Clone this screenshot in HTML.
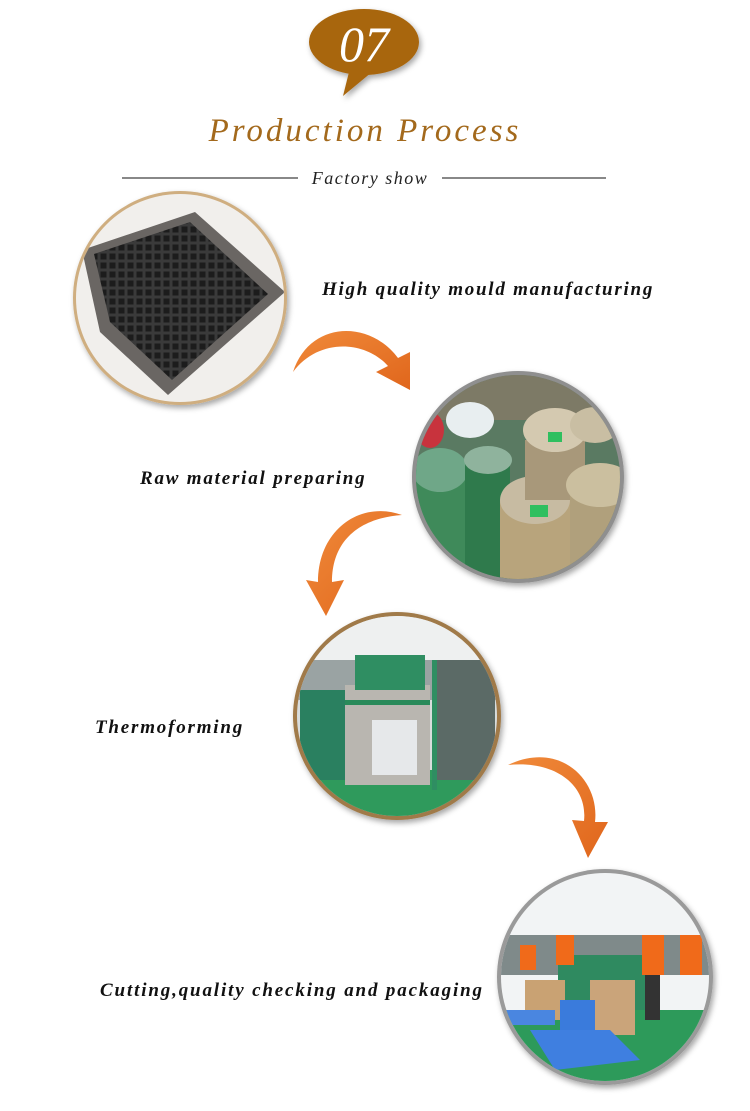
<!DOCTYPE html>
<html><head><meta charset="utf-8"><style>
html,body{margin:0;padding:0;background:#fff;}
body{width:750px;height:1106px;overflow:hidden;}
</style></head><body>
<svg width="750" height="1106" viewBox="0 0 750 1106" xmlns="http://www.w3.org/2000/svg" font-family="Liberation Serif, serif">
<defs>
<filter id="sh" x="-20%" y="-20%" width="140%" height="140%"><feDropShadow dx="2" dy="3" stdDeviation="3" flood-color="#000" flood-opacity="0.35"/></filter>
<clipPath id="c1"><circle cx="180" cy="298" r="104"/></clipPath>
<clipPath id="c2"><circle cx="518" cy="477" r="102"/></clipPath>
<clipPath id="c3"><circle cx="397" cy="716" r="100"/></clipPath>
<clipPath id="c4"><circle cx="605" cy="977" r="104"/></clipPath>
<linearGradient id="og" x1="0" y1="0" x2="1" y2="1"><stop offset="0" stop-color="#f08a3a"/><stop offset="1" stop-color="#e0661c"/></linearGradient>
<pattern id="grid" width="9" height="9" patternUnits="userSpaceOnUse"><rect width="9" height="9" fill="#3a3a3a"/><rect x="1.5" y="1.5" width="6" height="6" fill="#1c1c1c"/></pattern>
</defs>

<g filter="url(#sh)">
<ellipse cx="364" cy="42" rx="55" ry="33" fill="#a8660f"/>
<path d="M350 68 L343 96 L372 72 Z" fill="#a8660f"/>
</g>
<text x="364" y="61" font-size="50" font-style="italic" fill="#fff" text-anchor="middle">07</text>

<text x="365" y="141" font-size="33" font-style="italic" fill="#a3691c" text-anchor="middle" letter-spacing="3">Production Process</text>
<line x1="122" y1="178" x2="298" y2="178" stroke="#111" stroke-width="1"/>
<line x1="442" y1="178" x2="606" y2="178" stroke="#111" stroke-width="1"/>
<text x="370" y="184" font-size="18" font-style="italic" fill="#222" text-anchor="middle" letter-spacing="1.5">Factory show</text>

<g filter="url(#sh)"><circle cx="180" cy="298" r="107" fill="#cfae80"/></g>
<g clip-path="url(#c1)">
<rect x="70" y="190" width="220" height="220" fill="#f1efec"/>
<polygon points="82,250 195,212 285,292 168,395 100,332" fill="#6a6663"/>
<polygon points="94,254 190,222 268,294 172,380 110,322" fill="url(#grid)"/>
</g>
<text x="322" y="295" font-size="19" font-style="italic" font-weight="bold" fill="#111" letter-spacing="1.75">High quality mould manufacturing</text>

<path d="M293 372 C 310 320, 370 320, 398 358 L410 352 L410 390 L376 372 L388 366 C 365 340, 318 338, 293 372 Z" fill="url(#og)"/>

<g filter="url(#sh)"><circle cx="518" cy="477" r="106" fill="#8f8f8f"/></g>
<g clip-path="url(#c2)">
<rect x="410" y="370" width="220" height="220" fill="#5a7a62"/>
<rect x="410" y="370" width="220" height="50" fill="#7d7a66"/>
<rect x="410" y="470" width="80" height="110" fill="#3f8a5a"/>
<ellipse cx="440" cy="470" rx="28" ry="22" fill="#6fa788"/>
<ellipse cx="470" cy="420" rx="24" ry="18" fill="#e8eef0"/>
<ellipse cx="430" cy="430" rx="14" ry="18" fill="#c8333d"/>
<rect x="465" y="460" width="45" height="120" fill="#2f7a4c"/>
<ellipse cx="488" cy="460" rx="24" ry="14" fill="#8fb39d"/>
<rect x="500" y="500" width="70" height="90" fill="#b8a47c"/>
<ellipse cx="535" cy="500" rx="35" ry="24" fill="#c7bba2"/>
<rect x="525" y="440" width="60" height="60" fill="#a8987a"/>
<ellipse cx="555" cy="430" rx="32" ry="22" fill="#d4c9b0"/>
<rect x="570" y="480" width="60" height="110" fill="#b0a07c"/>
<ellipse cx="600" cy="485" rx="34" ry="22" fill="#cbbf9f"/>
<ellipse cx="595" cy="425" rx="25" ry="18" fill="#c9bea3"/>
<rect x="530" y="505" width="18" height="12" fill="#2fbf5f"/>
<rect x="548" y="432" width="14" height="10" fill="#2fbf5f"/>
</g>
<text x="140" y="484" font-size="19" font-style="italic" font-weight="bold" fill="#111" letter-spacing="1.8">Raw material preparing</text>

<path d="M402 515 C 360 500, 318 530, 318 582 L306 580 L326 616 L344 580 L332 582 C 332 540, 360 518, 402 515 Z" fill="url(#og)"/>

<g filter="url(#sh)"><circle cx="397" cy="716" r="104" fill="#a07a48"/></g>
<g clip-path="url(#c3)">
<rect x="290" y="610" width="215" height="215" fill="#d8dcdc"/>
<rect x="290" y="610" width="215" height="50" fill="#eef0f0"/>
<rect x="290" y="660" width="215" height="40" fill="#9aa3a3"/>
<rect x="290" y="770" width="215" height="60" fill="#2f9a5c"/>
<rect x="345" y="685" width="85" height="100" fill="#b9b6b0"/>
<rect x="345" y="700" width="85" height="5" fill="#2a8a5a"/>
<rect x="355" y="655" width="70" height="35" fill="#2f8e62"/>
<rect x="300" y="690" width="45" height="90" fill="#2a8060"/>
<rect x="435" y="660" width="60" height="120" fill="#5b6a66"/>
<rect x="432" y="660" width="5" height="130" fill="#2f8e62"/>
<rect x="372" y="720" width="45" height="55" fill="#e6e8ea"/>
</g>
<text x="95" y="733" font-size="19" font-style="italic" font-weight="bold" fill="#111" letter-spacing="1.8">Thermoforming</text>

<path d="M508 765 C 560 740, 600 780, 595 822 L608 822 L588 858 L572 820 L584 821 C 588 785, 555 760, 508 765 Z" fill="url(#og)"/>

<g filter="url(#sh)"><circle cx="605" cy="977" r="108" fill="#9a9a9a"/></g>
<g clip-path="url(#c4)">
<rect x="495" y="865" width="225" height="225" fill="#f2f4f5"/>
<rect x="495" y="935" width="225" height="40" fill="#7f8a8a"/>
<rect x="495" y="1010" width="225" height="80" fill="#2d9a5a"/>
<rect x="558" y="955" width="100" height="55" fill="#2f8a60"/>
<rect x="520" y="945" width="16" height="25" fill="#f06a1a"/>
<rect x="556" y="935" width="18" height="30" fill="#f06a1a"/>
<rect x="642" y="935" width="22" height="40" fill="#f06a1a"/>
<rect x="680" y="935" width="22" height="40" fill="#f06a1a"/>
<rect x="645" y="975" width="15" height="45" fill="#333"/>
<rect x="525" y="980" width="40" height="40" fill="#c9a273"/>
<rect x="590" y="980" width="45" height="55" fill="#caa47a"/>
<rect x="560" y="1000" width="35" height="30" fill="#3a7bdc"/>
<polygon points="530,1030 610,1030 640,1060 555,1070" fill="#3f7fe0"/>
<rect x="505" y="1010" width="50" height="15" fill="#4a86e0"/>
</g>
<text x="100" y="996" font-size="19" font-style="italic" font-weight="bold" fill="#111" letter-spacing="1.85">Cutting,quality checking and packaging</text>
</svg>
</body></html>
